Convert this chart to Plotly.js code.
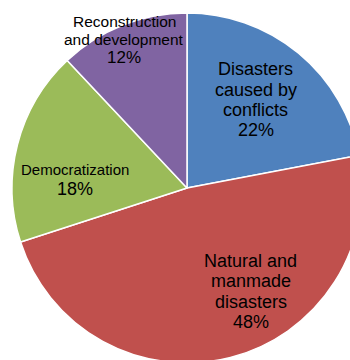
<!DOCTYPE html>
<html>
<head>
<meta charset="utf-8">
<script src="https://cdn.plot.ly/plotly-3.0.1.min.js"></script>
<style>
  html, body { margin: 0; padding: 0; background: #fff; overflow: hidden; }
  #chart { width: 374px; height: 363px; }
</style>
</head>
<body>
<div id="chart"></div>
<script>
// Share of activities by category (percent)
const categories = [
  'Disasters<br>caused by<br>conflicts',
  'Natural and<br>manmade<br>disasters',
  'Democratization',
  'Reconstruction<br>and development'
];
const shares = [22, 48, 18, 12];
const sliceColors = ['#4F81BD', '#C0504D', '#9BBB59', '#8064A2'];

// Label placement: centre x, first baseline, line gap (px), name / percent font sizes
const labelStyle = [
  { x: 256,   base: 75.7,  gap: 20.3, nameSize: 18,   pctSize: 18 },
  { x: 250.5, base: 267.3, gap: 20.3, nameSize: 18,   pctSize: 18 },
  { x: 75.4,  base: 175,   gap: 20.7, nameSize: 15,   pctSize: 18 },
  { x: 124,   base: 26.7,  gap: 18.3, nameSize: 15.5, pctSize: 17 }
];

const W = 374, H = 363, TOP = 13, PLOT_H = H - TOP;
const toPaperX = px => px / W;
const toPaperY = py => 1 - (py - TOP) / PLOT_H;

const annotations = [];
categories.forEach((cat, i) => {
  const s = labelStyle[i];
  const lines = cat.split('<br>').map(t => ({ text: t, size: s.nameSize }));
  lines.push({ text: shares[i] + '%', size: s.pctSize });
  lines.forEach((ln, k) => {
    const baseline = s.base + k * s.gap;
    annotations.push({
      xref: 'paper', yref: 'paper',
      x: toPaperX(s.x), y: toPaperY(baseline - 0.35 * ln.size),
      xanchor: 'center', yanchor: 'middle',
      text: ln.text, showarrow: false,
      font: { family: 'Liberation Sans, Arial, sans-serif', size: ln.size, color: '#000' }
    });
  });
});

const trace = {
  type: 'pie',
  labels: categories.map(c => c.replace(/<br>/g, ' ')),
  values: shares,
  sort: false,
  direction: 'clockwise',
  rotation: 0,
  marker: { colors: sliceColors, line: { color: '#ffffff', width: 1.5 } },
  textinfo: 'none',
  hoverinfo: 'label+percent',
  showlegend: false
};

Plotly.newPlot('chart', [trace], {
  width: W, height: H,
  margin: { l: 0, r: 0, t: TOP, b: 0, pad: 0 },
  paper_bgcolor: '#ffffff',
  showlegend: false,
  annotations: annotations
}, { staticPlot: true, displayModeBar: false });
</script>
</body>
</html>
